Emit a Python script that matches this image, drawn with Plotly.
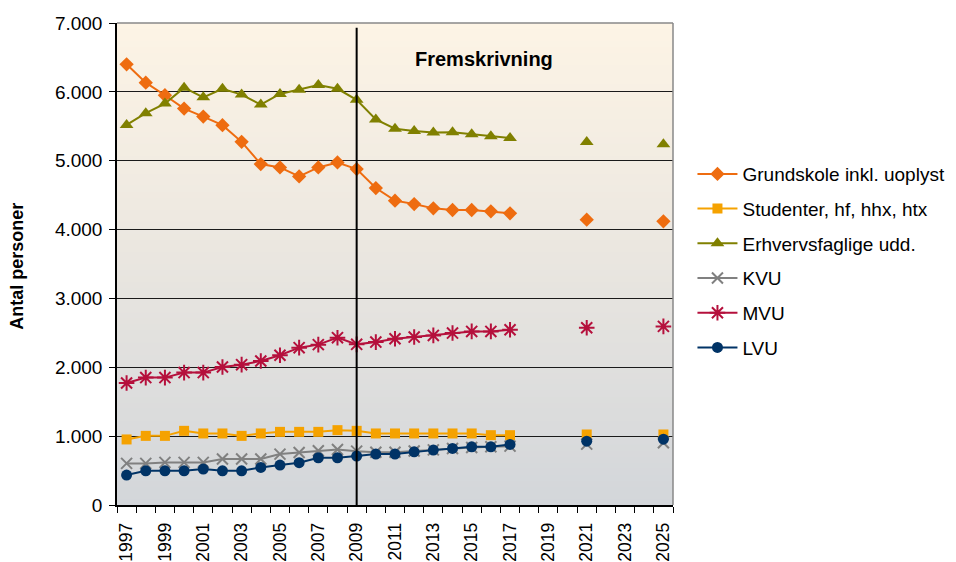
import plotly.graph_objects as go

years = list(range(1997, 2026))

def fill(vals_1997_2017, v2021, v2025):
    return list(vals_1997_2017) + [None, None, None, v2021, None, None, None, v2025]

grundskole = fill([6400, 6134, 5951, 5757, 5641, 5516, 5274, 4951, 4902, 4772, 4902, 4975, 4879,
                   4603, 4420, 4371, 4308, 4284, 4284, 4265, 4236], 4144, 4120)
studenter = fill([952, 1004, 1004, 1077, 1039, 1039, 1004, 1039, 1062, 1062, 1062, 1087, 1077,
                  1039, 1039, 1039, 1039, 1039, 1039, 1014, 1014], 1024, 1024)
erhverv = fill([5520, 5690, 5830, 6060, 5920, 6045, 5960, 5815, 5970, 6030, 6100, 6045, 5885,
                5600, 5465, 5430, 5410, 5415, 5385, 5355, 5330], 5270, 5240)
kvu = fill([604, 604, 619, 619, 619, 667, 667, 667, 739, 763, 787, 807, 782,
            765, 765, 785, 800, 820, 835, 845, 855], 884, 903)
mvu = fill([1772, 1850, 1850, 1923, 1923, 2004, 2038, 2091, 2174, 2285, 2329, 2430, 2333,
            2366, 2415, 2439, 2463, 2497, 2521, 2521, 2545], 2574, 2594)
lvu = fill([435, 497, 497, 497, 522, 497, 497, 546, 580, 614, 686, 686, 710,
            739, 739, 773, 797, 821, 845, 845, 879], 927, 956)

series_names = ["Grundskole inkl. uoplyst", "Studenter, hf, hhx, htx", "Erhvervsfaglige udd.",
                "KVU", "MVU", "LVU"]
series_values = [grundskole, studenter, erhverv, kvu, mvu, lvu]
colors = ["#EE6C10", "#F5A200", "#808000", "#808080", "#B5103C", "#003366"]
symbols = ["diamond", "square", "triangle-up", "x-thin-open", "asterisk-open", "circle"]
sizes = [11, 10, 12, 11, 13, 11]

x_ticks = list(range(1997, 2026, 2))
y_ticks = list(range(0, 7001, 1000))
divider_year = 2009

fig = go.Figure()
for i, (name, vals) in enumerate(zip(series_names, series_values)):
    sym = symbols[i]
    marker = dict(symbol=sym, size=sizes[i], color=colors[i])
    if sym.endswith("open"):
        marker["line"] = dict(width=2, color=colors[i])
    else:
        marker["line"] = dict(width=0)
    fig.add_trace(go.Scatter(
        x=years, y=vals, name=name, mode="lines+markers",
        line=dict(color=colors[i], width=2), marker=marker,
        connectgaps=False, legendgroup=f"g{i}"))

# Background gradient (strips)
def lerp(c1, c2, t):
    return tuple(round(a + (b - a) * t) for a, b in zip(c1, c2))

anchors = [(0.0, (211, 214, 218)), (0.35, (226, 225, 222)), (0.6, (238, 233, 225)), (1.0, (253, 244, 229))]
n = 80
shapes = []
for k in range(n):
    t = (k + 0.5) / n
    c = anchors[-1][1]
    for j in range(len(anchors) - 1):
        if anchors[j][0] <= t <= anchors[j + 1][0]:
            tt = (t - anchors[j][0]) / (anchors[j + 1][0] - anchors[j][0])
            c = lerp(anchors[j][1], anchors[j + 1][1], tt)
            break
    shapes.append(dict(type="rect", xref="x domain", yref="y domain", x0=0, x1=1,
                       y0=k / n, y1=min(1, (k + 1) / n + 0.002), layer="below",
                       fillcolor="rgb(%d,%d,%d)" % c, line=dict(width=0)))

# plot border (gray top/right)
shapes.append(dict(type="line", xref="x domain", yref="y domain", x0=0, x1=1, y0=1, y1=1,
                   layer="above", line=dict(color="#888888", width=1.5)))
shapes.append(dict(type="line", xref="x domain", yref="y domain", x0=1, x1=1, y0=0, y1=1,
                   layer="above", line=dict(color="#888888", width=1.5)))
# vertical divider
shapes.append(dict(type="line", xref="x", yref="y domain", x0=divider_year, x1=divider_year,
                   y0=0, y1=0.99, layer="above", line=dict(color="black", width=2)))

# the page body adds an 8px offset; size and margins compensate for it
fig.update_layout(
    width=964, height=554,
    margin=dict(l=109, r=299, t=15, b=57, autoexpand=False),
    paper_bgcolor="white", plot_bgcolor="rgba(0,0,0,0)",
    separators=",.",
    font=dict(family="Liberation Sans, Arial, sans-serif", size=19, color="black"),
    shapes=shapes,
    showlegend=True,
    legend=dict(x=1.035, y=0.726, xanchor="left", yanchor="top",
                font=dict(size=19), tracegroupgap=7, bgcolor="rgba(0,0,0,0)",
                itemwidth=40),
    annotations=[
        dict(text="<b>Fremskrivning</b>", xref="paper", yref="paper",
             x=0.66, y=0.925, showarrow=False, font=dict(size=20),
             xanchor="center", yanchor="middle"),
        dict(text="<b>Antal personer</b>", xref="paper", yref="paper",
             x=-0.18, y=0.496, showarrow=False, font=dict(size=18), textangle=-90,
             xanchor="center", yanchor="middle"),
    ],
)

fig.update_xaxes(
    range=[1996.5, 2025.5], tickmode="array", tickvals=x_ticks,
    ticktext=[str(v) for v in x_ticks], tickangle=-90,
    ticks="outside", ticklen=9, tickcolor="rgba(0,0,0,0)",
    showgrid=False, zeroline=False, showline=True, linecolor="black", linewidth=1.5,
    tickfont=dict(size=17.5), automargin=False,
    minor=dict(tickmode="array", tickvals=[y + 0.5 for y in range(1996, 2026)],
               ticks="outside", ticklen=6, tickcolor="black", tickwidth=1, showgrid=False),
)
fig.update_yaxes(
    range=[0, 7000], tickmode="array", tickvals=y_ticks, tickformat=",d",
    ticks="outside", ticklen=6, tickcolor="black", ticklabelstandoff=3,
    showgrid=True, gridcolor="#1a1a1a", gridwidth=1,
    zeroline=False, showline=True, linecolor="black", linewidth=1.5,
    tickfont=dict(size=19), automargin=False,
)

fig.write_html("out.html")
